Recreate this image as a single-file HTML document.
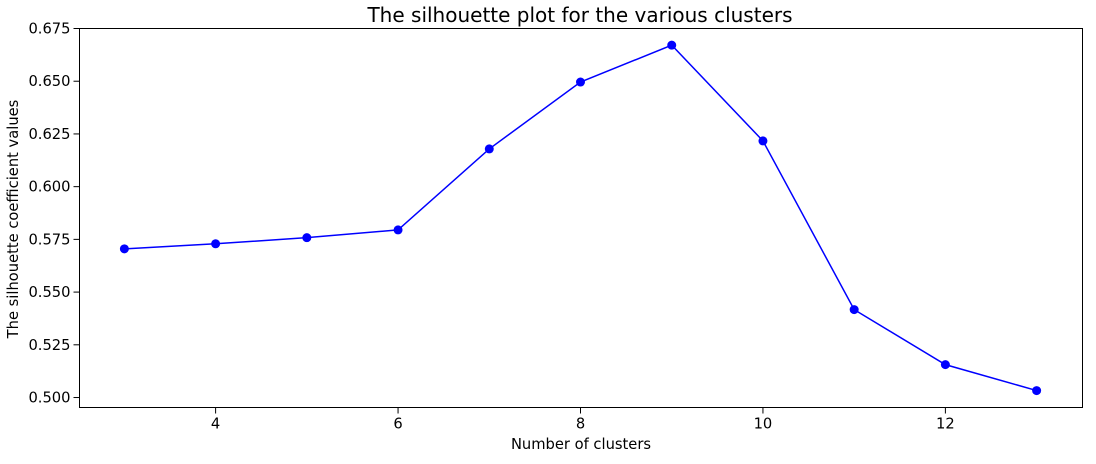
<!DOCTYPE html>
<html><head><meta charset="utf-8"><style>
html,body{margin:0;padding:0;background:#fff;}
svg text{font-family:"DejaVu Sans","Liberation Sans",sans-serif;fill:#000;}
</style></head><body>
<svg id="chart" width="1096" height="459" xmlns="http://www.w3.org/2000/svg">
<text x="580" y="22" font-size="20" text-anchor="middle">The silhouette plot for the various clusters</text>
<text x="581" y="449" font-size="14.7" text-anchor="middle">Number of clusters</text>
<text transform="translate(18,219) rotate(-90)" font-size="14.7" text-anchor="middle">The silhouette coefficient values</text>
<g id="axes"></g>
<rect x="79.5" y="28.5" width="1003" height="379" fill="none" stroke="#000" stroke-width="1"/>
</svg>
<script>
const clusters=[3,4,5,6,7,8,9,10,11,12,13];
const scores=[0.5705,0.5729,0.5758,0.5795,0.6179,0.6496,0.6671,0.6217,0.5417,0.5156,0.5033];
const xTicks=[4,6,8,10,12];
const yTicks=[0.500,0.525,0.550,0.575,0.600,0.625,0.650,0.675];
const L=79.5,R=1082.5,T=28.5,B=407.5;
const xMin=2.508,xMax=13.503,yMin=0.49527,yMax=0.675;
const xs=v=>L+(v-xMin)/(xMax-xMin)*(R-L);
const ys=v=>B-(v-yMin)/(yMax-yMin)*(B-T);
const NS="http://www.w3.org/2000/svg";
const g=document.getElementById('axes');
function mk(t,a){const e=document.createElementNS(NS,t);for(const k in a)e.setAttribute(k,a[k]);g.appendChild(e);return e;}
xTicks.forEach(v=>{
const x=xs(v);
const l=mk('line',{x1:x,x2:x,y1:B,y2:B+6,stroke:'#000'});


const t=mk('text',{x:x,y:B+21,'font-size':14.7,'text-anchor':'middle'});
t.textContent=v;


});
yTicks.forEach(v=>{
const y=ys(v);
const l=mk('line',{x1:L-6,x2:L,y1:y,y2:y,stroke:'#000'});


const t=mk('text',{x:L-9,y:y+5,'font-size':14.7,'text-anchor':'end'});
t.textContent=v.toFixed(3);


});
const pts=clusters.map((c,i)=>xs(c)+','+ys(scores[i])).join(' ');
const pl=mk('polyline',{points:pts,fill:'none',stroke:'#0000ff','stroke-width':1.5});


clusters.forEach((c,i)=>{
const p=mk('circle',{cx:xs(c),cy:ys(scores[i]),r:4.5,fill:'#0000ff'});


});
</script>
</body></html>
